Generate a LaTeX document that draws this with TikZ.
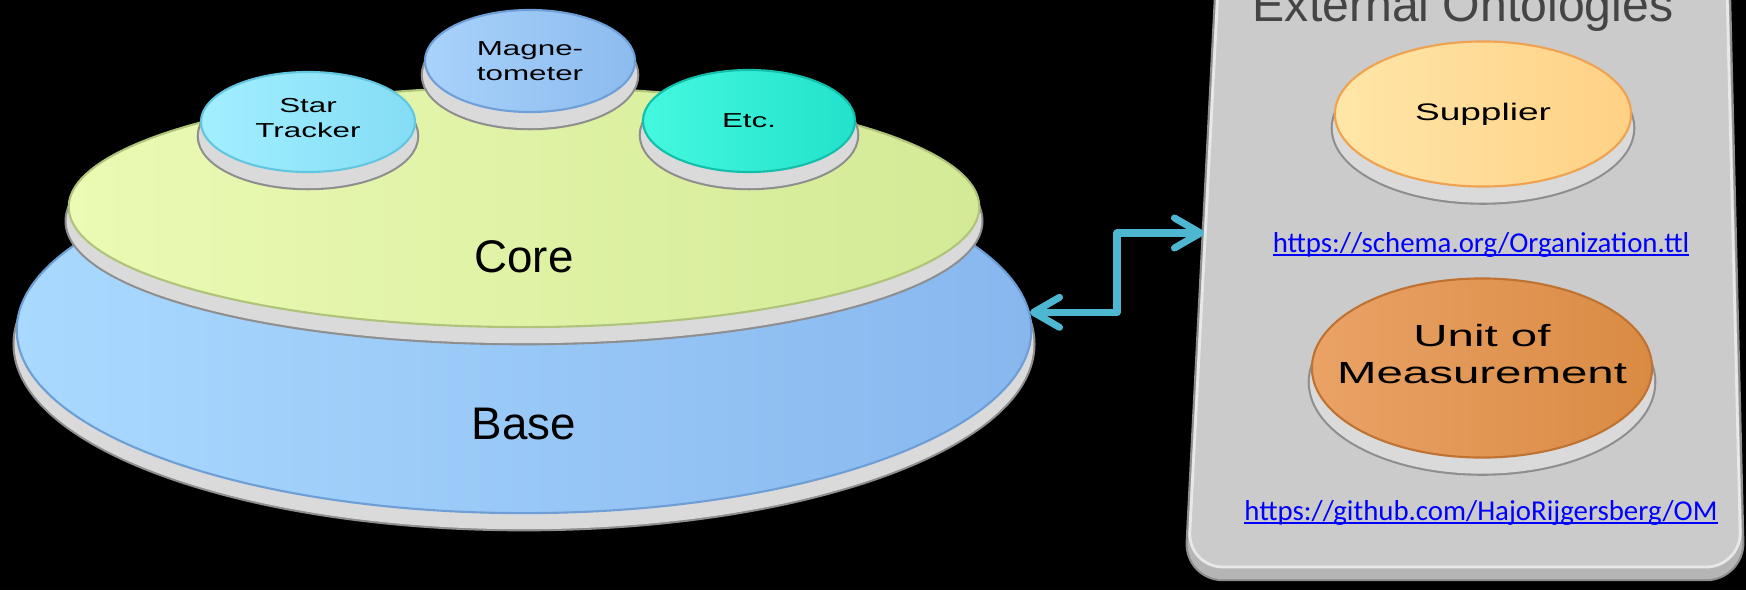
\documentclass[tikz,border=0pt]{standalone}
\usepackage{fontspec}
\setmainfont{Liberation Sans}
\newfontfamily\widesans[FakeStretch=1.55]{Liberation Sans}
\newfontfamily\calibri{Carlito}
\usepackage{tikz}
\usetikzlibrary{arrows.meta,positioning,calc,shapes.geometric}

\definecolor{baseL}{HTML}{AAD9FF}
\definecolor{baseR}{HTML}{87B7EE}
\definecolor{baseE}{HTML}{6E9ED6}
\definecolor{coreL}{HTML}{EBFAB4}
\definecolor{coreR}{HTML}{D3EA96}
\definecolor{coreE}{HTML}{AFC47A}
\definecolor{starL}{HTML}{A2EFFF}
\definecolor{starR}{HTML}{84DDF5}
\definecolor{starE}{HTML}{62C6E0}
\definecolor{magL}{HTML}{A9D2FB}
\definecolor{magR}{HTML}{8CBBEE}
\definecolor{magE}{HTML}{6F9FD8}
\definecolor{etcL}{HTML}{45F8DF}
\definecolor{etcR}{HTML}{22E2CB}
\definecolor{etcE}{HTML}{12BFAA}
\definecolor{supL}{HTML}{FFE6A8}
\definecolor{supR}{HTML}{FFD185}
\definecolor{supE}{HTML}{EFA24F}
\definecolor{unitL}{HTML}{EAA266}
\definecolor{unitR}{HTML}{D98B43}
\definecolor{unitE}{HTML}{C07232}
\definecolor{rimgray}{HTML}{DADADA}
\definecolor{rimedge}{HTML}{8E8E8E}
\definecolor{panelface}{HTML}{CBCBCB}
\definecolor{paneledge}{HTML}{E8E8E8}
\definecolor{panelrim}{HTML}{B5B5B5}
\definecolor{titlegray}{HTML}{454545}
\definecolor{linkblue}{HTML}{4DB7D1}
\definecolor{urlblue}{HTML}{0000FF}

% underlined link text
\newcommand{\ulink}[1]{\setbox0\hbox{#1}\rlap{\rule[-1.2pt]{\wd0}{0.5pt}}\box0}

\begin{document}
\begin{tikzpicture}[x=0.01cm, y=0.01cm, >={Straight Barb[round, length=2.6mm, width=3mm]}]
\tikzstyle{disc}=[ellipse, inner sep=0pt, line width=0.6pt,
  preaction={draw=rimedge, line width=2.4pt, transform canvas={yshift=-1.4mm}},
  preaction={fill=rimgray, draw=rimgray, line width=1.2pt, transform canvas={yshift=-1.4mm}}]
\tikzstyle{panel}=[fill=panelface, draw=paneledge, line width=0.8pt, rounded corners=3.5mm,
  preaction={draw=rimedge, line width=2.4pt, transform canvas={yshift=-1mm}},
  preaction={fill=panelrim, draw=panelrim, line width=1.2pt, transform canvas={yshift=-1mm}}]
\tikzstyle{big}=[font=\fontsize{13}{15.6}\selectfont]
\tikzstyle{small}=[font=\widesans\fontsize{5.75}{7.1}\selectfont, align=center]
\tikzstyle{mid}=[font=\widesans\fontsize{6.8}{8}\selectfont, align=center]
\tikzstyle{large}=[font=\widesans\fontsize{8.7}{10.5}\selectfont, align=center]
\tikzstyle{url}=[font=\calibri\fontsize{8.2}{10}\selectfont, text=urlblue, anchor=base, inner sep=0pt]
\tikzstyle{link}=[<->, draw=linkblue, line width=2pt, line join=round]

\useasboundingbox (0,0) rectangle (1746,590);
\clip (0,0) rectangle (1746,590);
\fill[black] (0,0) rectangle (1746,590);

% stack of ontologies
\node[disc, left color=baseL, right color=baseR, draw=baseE, minimum width=10.14cm, minimum height=3.66cm] (base) at (524,260) {};
\node[disc, left color=coreL, right color=coreR, draw=coreE, minimum width=9.10cm, minimum height=2.40cm] (core) at (524,383) {};
\node[disc, left color=starL, right color=starR, draw=starE, minimum width=2.14cm, minimum height=1.00cm] (star) at (308,468) {};
\node[disc, left color=magL, right color=magR, draw=magE, minimum width=2.10cm, minimum height=1.02cm] (magneto) at (530,529) {};
\node[disc, left color=etcL, right color=etcR, draw=etcE, minimum width=2.12cm, minimum height=1.02cm] (etc) at (749,469) {};

\node[big] (basetxt) at ([yshift=-9.4mm]base.center) {Base};
\node[big] (coretxt) at ([yshift=-5mm]core.center) {Core};
\node[small] (startxt) at ([yshift=0.4mm]star.center) {Star\\Tracker};
\node[small] (magnetotxt) at (magneto) {Magne-\\tometer};
\node[small] (etctxt) at (etc) {Etc.};

% external ontologies
\path[panel] (1220,640) -- (1188,23) -- (1741,23) -- (1726,640) -- cycle;
\coordinate (ext) at (1204,357);
\node[font=\fontsize{13.7}{16}\selectfont, text=titlegray, anchor=base] (exttitle) at (1463,569) {External Ontologies};

\node[disc, left color=supL, right color=supR, draw=supE, minimum width=2.96cm, minimum height=1.45cm] (supplier) at (1483,476) {};
\node[mid] (suppliertxt) at (supplier) {Supplier};
\node[url] (supurl) at (1481,338) {\ulink{https://schema.org/Organization.ttl}};

\node[disc, left color=unitL, right color=unitR, draw=unitE, minimum width=3.40cm, minimum height=1.79cm] (unit) at (1482,222) {};
\node[large] (unittxt) at ([yshift=1.4mm]unit.center) {Unit of\\Measurement};
\node[url] (omurl) at (1481,70) {\ulink{https://github.com/HajoRijgersberg/OM}};

\draw[link] (base.2) -| ($(base.2)!.5!(ext)$) |- (ext);

\end{tikzpicture}
\end{document}
